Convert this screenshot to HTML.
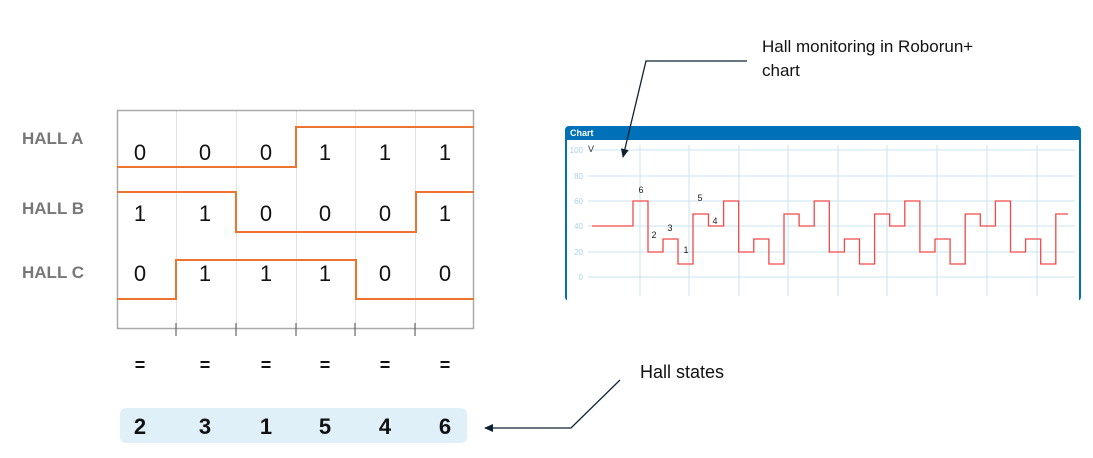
<!DOCTYPE html>
<html><head><meta charset="utf-8"><style>
html,body{margin:0;padding:0;background:#fff;}
svg{display:block;font-family:"Liberation Sans",sans-serif;}
</style></head><body>
<svg width="1093" height="458" viewBox="0 0 1093 458" xmlns="http://www.w3.org/2000/svg">
<defs><marker id="ah" markerWidth="10" markerHeight="10" refX="8" refY="5" orient="auto" markerUnits="userSpaceOnUse"><path d="M0,1 L9,5 L0,9 z" fill="#0d2233"/></marker></defs>
<!-- left timing diagram -->
<g fill="#777" font-weight="bold" font-size="17">
<text x="22" y="144">HALL A</text>
<text x="22" y="214">HALL B</text>
<text x="22" y="278">HALL C</text>
</g>
<g stroke="#e2e2e2" stroke-width="1">
<line x1="176.5" y1="111" x2="176.5" y2="328"/><line x1="236.5" y1="111" x2="236.5" y2="328"/>
<line x1="296.5" y1="111" x2="296.5" y2="328"/><line x1="355.5" y1="111" x2="355.5" y2="328"/>
<line x1="415.5" y1="111" x2="415.5" y2="328"/>
</g>
<rect x="117.5" y="110.5" width="356" height="218" fill="none" stroke="#aaa" stroke-width="1.5"/>
<g stroke="#666" stroke-width="1.2">
<line x1="176" y1="323" x2="176" y2="336"/><line x1="236" y1="323" x2="236" y2="336"/>
<line x1="296" y1="323" x2="296" y2="336"/><line x1="355" y1="323" x2="355" y2="336"/>
<line x1="415" y1="323" x2="415" y2="336"/>
</g>
<g fill="none" stroke="#ed7430" stroke-width="2">
<path d="M117 167 H296 V127 H474"/>
<path d="M117 192 H236 V232 H416 V192 H474"/>
<path d="M117 299 H176 V260 H356 V299 H474"/>
</g>
<g font-size="22" fill="#111" text-anchor="middle">
<text x="140" y="160">0</text><text x="205" y="160">0</text><text x="266" y="160">0</text><text x="325" y="160">1</text><text x="385" y="160">1</text><text x="445" y="160">1</text>
<text x="140" y="221">1</text><text x="205" y="221">1</text><text x="266" y="221">0</text><text x="325" y="221">0</text><text x="385" y="221">0</text><text x="445" y="221">1</text>
<text x="140" y="281">0</text><text x="205" y="281">1</text><text x="266" y="281">1</text><text x="325" y="281">1</text><text x="385" y="281">0</text><text x="445" y="281">0</text>
</g>
<g font-size="18" font-weight="bold" fill="#111" text-anchor="middle">
<text x="140" y="371">=</text><text x="205" y="371">=</text><text x="266" y="371">=</text><text x="325" y="371">=</text><text x="385" y="371">=</text><text x="445" y="371">=</text>
</g>
<rect x="120" y="408" width="347" height="35" rx="6" fill="#dff0f8"/>
<g font-size="22" font-weight="bold" fill="#111" text-anchor="middle">
<text x="140" y="434">2</text><text x="205" y="434">3</text><text x="266" y="434">1</text><text x="325" y="434">5</text><text x="385" y="434">4</text><text x="445" y="434">6</text>
</g>
<!-- hall states annotation -->
<text x="640" y="378" font-size="18" fill="#111">Hall states</text>
<path d="M620 380 L571 428 H485" fill="none" stroke="#0d2233" stroke-width="1.3" marker-end="url(#ah)"/>
<!-- chart panel -->
<rect x="565" y="126" width="516" height="175" rx="4" fill="#0070b8"/>
<rect x="567" y="140" width="512" height="161" fill="#fff"/>
<text x="570" y="136" font-size="9" font-weight="bold" fill="#fff">Chart</text>
<g stroke="#c9e4f1" stroke-width="1">
<line x1="588" y1="150" x2="1075" y2="150"/><line x1="588" y1="176" x2="1075" y2="176"/>
<line x1="588" y1="201" x2="1075" y2="201"/><line x1="588" y1="226" x2="1075" y2="226"/>
<line x1="588" y1="252" x2="1075" y2="252"/><line x1="588" y1="277" x2="1075" y2="277"/>
<line x1="640" y1="145" x2="640" y2="296"/><line x1="689" y1="145" x2="689" y2="296"/>
<line x1="739" y1="145" x2="739" y2="296"/><line x1="788" y1="145" x2="788" y2="296"/>
<line x1="838" y1="145" x2="838" y2="296"/><line x1="887" y1="145" x2="887" y2="296"/>
<line x1="937" y1="145" x2="937" y2="296"/><line x1="987" y1="145" x2="987" y2="296"/>
<line x1="1037" y1="145" x2="1037" y2="296"/>
</g>
<g font-size="8" fill="#a9d3ea" text-anchor="end">
<text x="583" y="153">100</text><text x="583" y="179">80</text><text x="583" y="204">60</text>
<text x="583" y="229">40</text><text x="583" y="255">20</text><text x="583" y="280">0</text>
</g>
<text x="588" y="152" font-size="9" fill="#333">V</text>
<path d="M592 226 H633 V201 H648 V252 H663 V239 H678 V264 H693 V214 H708.5 V226 H723.6 V201 H738.7 V252 H753.8 V239 H768.9 V264 H784 V214 H799.1 V226 H814.2 V201 H829.3 V252 H844.4 V239 H859.5 V264 H874.6 V214 H889.7 V226 H904.8 V201 H919.9 V252 H935 V239 H950.1 V264 H965.2 V214 H980.3 V226 H995.4 V201 H1010.5 V252 H1025.6 V239 H1040.7 V264 H1055.8 V214 H1068" fill="none" stroke="#f04a4a" stroke-width="1.3"/>
<g font-size="9" fill="#222" text-anchor="middle">
<text x="641" y="193">6</text><text x="654" y="238">2</text><text x="670" y="231">3</text>
<text x="686" y="253">1</text><text x="700" y="201">5</text><text x="715" y="224">4</text>
</g>
<!-- chart annotation -->
<text x="762" y="52" font-size="17" fill="#111">Hall monitoring in Roborun+</text>
<text x="762" y="76" font-size="17" fill="#111">chart</text>
<path d="M747 61 H646 L623 157" fill="none" stroke="#0d2233" stroke-width="1.3" marker-end="url(#ah)"/>
</svg>
</body></html>
